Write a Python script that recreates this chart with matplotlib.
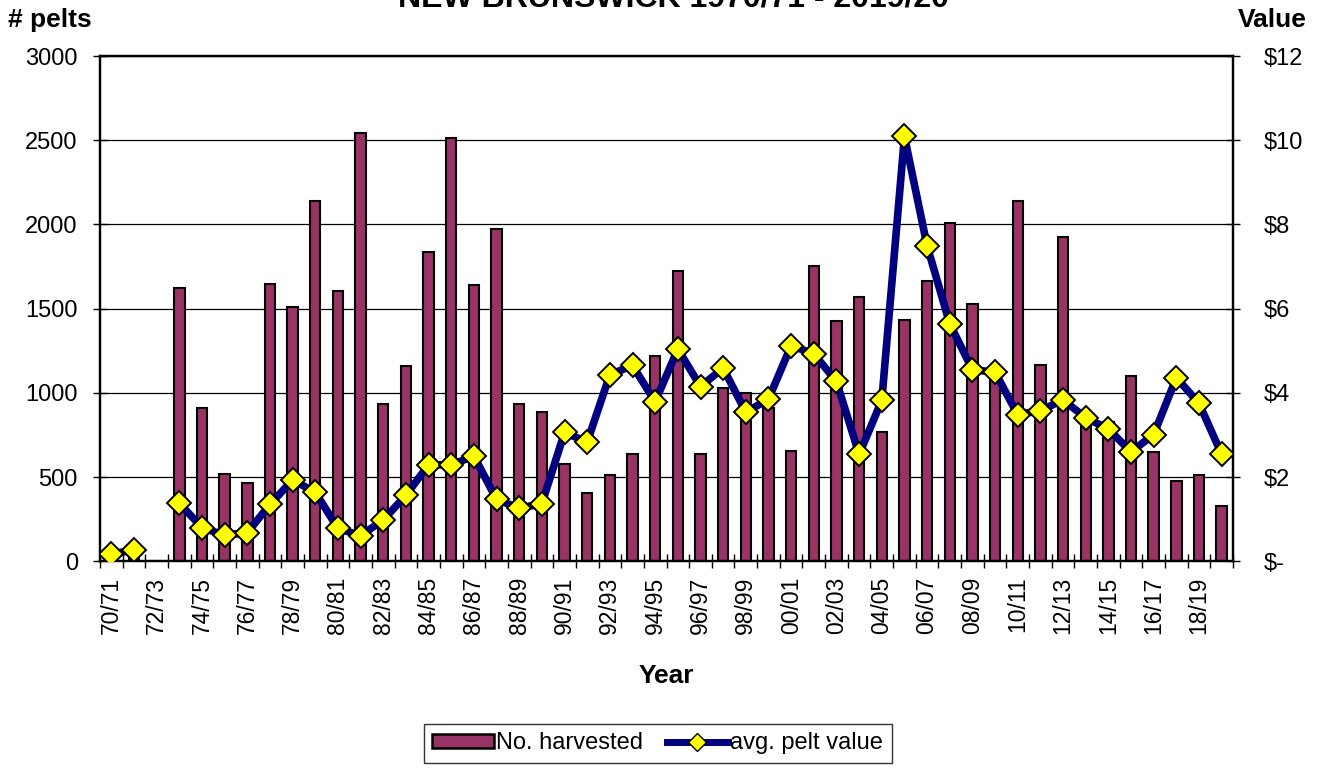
import numpy as np
import matplotlib.pyplot as plt
from matplotlib.lines import Line2D
from matplotlib.patches import Patch

plt.rcParams['font.family'] = ['Liberation Sans', 'DejaVu Sans']

seasons = ['70/71', '71/72', '72/73', '73/74', '74/75', '75/76', '76/77', '77/78', '78/79', '79/80',
           '80/81', '81/82', '82/83', '83/84', '84/85', '85/86', '86/87', '87/88', '88/89', '89/90',
           '90/91', '91/92', '92/93', '93/94', '94/95', '95/96', '96/97', '97/98', '98/99', '99/00',
           '00/01', '01/02', '02/03', '03/04', '04/05', '05/06', '06/07', '07/08', '08/09', '09/10',
           '10/11', '11/12', '12/13', '13/14', '14/15', '15/16', '16/17', '17/18', '18/19', '19/20']

# number of pelts harvested
harvested = [0, 40, 0, 1625, 910, 520, 462, 1645, 1512, 2138,
             1603, 2545, 932, 1162, 1835, 2512, 1641, 1971, 932, 886,
             577, 404, 515, 636, 1216, 1721, 638, 1028, 998, 909,
             656, 1756, 1426, 1570, 770, 1432, 1664, 2007, 1528, 1120,
             2141, 1163, 1924, 828, 826, 1101, 651, 476, 513, 330]

# average pelt value ($), no value for 72/73
pelt_value = [0.17, 0.27, np.nan, 1.38, 0.80, 0.62, 0.68, 1.35, 1.93, 1.64,
              0.78, 0.61, 0.98, 1.57, 2.29, 2.29, 2.50, 1.47, 1.26, 1.37,
              3.06, 2.83, 4.43, 4.65, 3.79, 5.04, 4.15, 4.59, 3.54, 3.85,
              5.12, 4.93, 4.27, 2.54, 3.82, 10.09, 7.49, 5.64, 4.55, 4.49,
              3.48, 3.58, 3.83, 3.41, 3.14, 2.60, 3.01, 4.36, 3.75, 2.54]

bar_color = '#993366'
line_color = '#000080'

fig = plt.figure(figsize=(13.21, 7.8), dpi=100)
ax = fig.add_axes([0.0757, 0.2804, 0.8577, 0.6478])
x = np.arange(len(seasons))

ax.bar(x, harvested, width=0.46, color=bar_color, edgecolor='black', linewidth=1.5, zorder=2)
ax.set_xlim(-0.5, len(seasons) - 0.5)
ax.set_ylim(0, 3000)
ax.set_yticks(range(0, 3001, 500))
ax.yaxis.grid(True, color='black', linewidth=0.9)
ax.set_axisbelow(True)
ax.tick_params(axis='y', labelsize=17, length=10, width=1, direction='inout', pad=11)

ax.set_xticks(x[::2])
ax.set_xticklabels(seasons[::2], rotation=90, fontsize=16.5)
ax.set_xticks(np.arange(-0.5, len(seasons), 1), minor=True)
ax.tick_params(axis='x', which='major', length=0, pad=11)
ax.tick_params(axis='x', which='minor', length=10, width=1, direction='inout')
for s in ax.spines.values():
    s.set_linewidth(1.6)

ax2 = ax.twinx()
ax2.plot(x, pelt_value, color=line_color, linewidth=5.5, marker='D', markersize=12,
         markerfacecolor='yellow', markeredgecolor='black', markeredgewidth=1.4, zorder=3)
ax2.set_ylim(0, 12)
ax2.set_yticks(range(0, 13, 2))
ax2.set_yticklabels(['$-'] + ['$%d' % v for v in range(2, 13, 2)])
ax2.tick_params(axis='y', labelsize=17, length=10, width=1, direction='inout', pad=17)
for s in ax2.spines.values():
    s.set_linewidth(1.6)

ax.set_xlabel('Year', fontsize=19, fontweight='bold', labelpad=22)
fig.text(0.038, 0.974, '# pelts', fontsize=19, fontweight='bold', ha='center', va='center')
fig.text(0.963, 0.974, 'Value', fontsize=19, fontweight='bold', ha='center', va='center')
fig.text(0.51, 0.992, 'NEW BRUNSWICK 1970/71 - 2019/20', fontsize=23, fontweight='bold',
         ha='center', va='baseline')

handles = [Patch(facecolor=bar_color, edgecolor='black', linewidth=1.8),
           Line2D([0], [0], color=line_color, linewidth=5, marker='D', markersize=9,
                  markerfacecolor='yellow', markeredgecolor='black')]
fig.legend(handles, ['No. harvested', 'avg. pelt value'], loc='center', bbox_to_anchor=(0.498, 0.047),
           ncol=2, fontsize=17, frameon=True, fancybox=False, edgecolor='black',
           handlelength=2.6, handleheight=0.5, handletextpad=0.1, columnspacing=1.0, borderpad=0.35)

plt.savefig('out.png')
